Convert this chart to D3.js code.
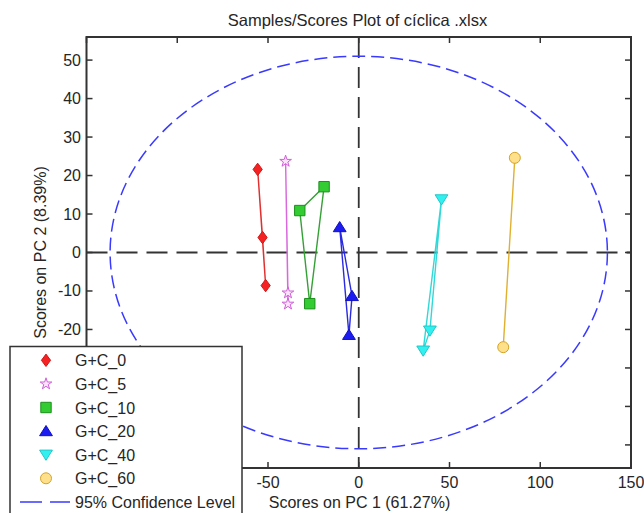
<!DOCTYPE html>
<html>
<head>
<meta charset="utf-8">
<script src="https://cdn.jsdelivr.net/npm/d3@7"></script>
<style>
  body { margin: 0; background: #fff; }
  text { font-family: "Liberation Sans", Arial, sans-serif; fill: #262626; }
</style>
</head>
<body>
<div class="vis-scores"></div>
<script>
// scores per sample group (PC1, PC2)
const groups = ["G+C_0", "G+C_5", "G+C_10", "G+C_20", "G+C_40", "G+C_60"];
const pc1 = [
    [-55.7, -53.0, -51.3],
    [-40.3, -39.0, -39.0],
    [-32.5, -19.1, -27.0],
    [-10.5, -3.7, -5.4],
    [45.6, 39.2, 35.5],
    [86.0, 79.6]
];
const pc2 = [
    [21.6, 3.9, -8.6],
    [23.7, -10.5, -13.4],
    [10.9, 17.1, -13.3],
    [6.6, -11.3, -21.4],
    [13.8, -20.3, -25.5],
    [24.6, -24.6]
];
// 95% confidence ellipse semi-axes
const ellipseAxes = [137, 51];
const xTicks = [-150, -100, -50, 0, 50, 100, 150];
const yTicks = [-50, -40, -30, -20, -10, 0, 10, 20, 30, 40, 50];

// marker outlines, centred on 0,0
const shapes = {
    diamond: "M0,-6.2L4.6,0L0,6.2L-4.6,0Z",
    square: "M-5.2,-5.2H5.2V5.2H-5.2Z",
    up: "M0,-5.6L6.4,4.6H-6.4Z",
    down: "M0,5.6L6.4,-4.6H-6.4Z",
    circle: d3.symbol().type(d3.symbolCircle).size(95)(),
    star: d3.symbol().type(d3.symbolStar).size(42)()
};

const draw = () => {
    const W = 644, H = 513;
    const left = 86.5, right = 631, top = 37, bottom = 468;
    const legendTop = 346.5;

    const svg = d3.select(".vis-scores")
        .append("svg")
        .attr("width", W)
        .attr("height", H);

    const x = d3.scaleLinear().domain([-150, 150]).range([left, right]);
    const y = d3.scaleLinear().domain([-56, 56]).range([bottom, top]);

    const styles = [
        { shape: "diamond", fill: "#f42222", stroke: "#d01818", line: "#e03030" },
        { shape: "star", fill: "#fbe4fb", stroke: "#d060d8", line: "#d868dc" },
        { shape: "square", fill: "#33cc33", stroke: "#1c8f1c", line: "#35a035" },
        { shape: "up", fill: "#1c1cf0", stroke: "#1010c0", line: "#2a2ae0" },
        { shape: "down", fill: "#33f0f0", stroke: "#20c8c8", line: "#30d8d8" },
        { shape: "circle", fill: "#ffe08a", stroke: "#d4a428", line: "#e0b030" }
    ];

    const data = groups.map((g, i) => ({
        name: g,
        style: styles[i],
        points: pc1[i].map((v, j) => [v, pc2[i][j]])
    }));

    // zero lines
    svg.append("line")
        .attr("x1", x(-150)).attr("x2", x(150))
        .attr("y1", y(0)).attr("y2", y(0))
        .attr("stroke", "#333").attr("stroke-width", 1.8)
        .attr("stroke-dasharray", "21,9");
    svg.append("line")
        .attr("x1", x(0)).attr("x2", x(0))
        .attr("y1", y(56)).attr("y2", y(-56))
        .attr("stroke", "#333").attr("stroke-width", 1.8)
        .attr("stroke-dasharray", "21,9");

    // confidence ellipse
    svg.append("ellipse")
        .attr("cx", x(0)).attr("cy", y(0))
        .attr("rx", x(ellipseAxes[0]) - x(0))
        .attr("ry", y(0) - y(ellipseAxes[1]))
        .attr("fill", "none")
        .attr("stroke", "#3a3aff").attr("stroke-width", 1.5)
        .attr("stroke-dasharray", "13,6");

    const line = d3.line()
        .x(d => x(d[0]))
        .y(d => y(d[1]))
        .curve(d3.curveLinearClosed);

    const grp = svg.append("g").selectAll("g")
        .data(data)
        .enter()
        .append("g");

    grp.append("path")
        .attr("d", d => line(d.points))
        .attr("fill", "none")
        .attr("stroke", d => d.style.line)
        .attr("stroke-width", 1.4);

    grp.selectAll("path.mark")
        .data(d => d.points.map(p => ({ p: p, s: d.style })))
        .enter()
        .append("path")
        .attr("class", "mark")
        .attr("d", d => shapes[d.s.shape])
        .attr("transform", d => "translate(" + x(d.p[0]) + "," + y(d.p[1]) + ")")
        .attr("fill", d => d.s.fill)
        .attr("stroke", d => d.s.stroke)
        .attr("stroke-width", 1);

    // box with inward ticks on all sides
    svg.append("rect")
        .attr("x", left).attr("y", top)
        .attr("width", right - left).attr("height", bottom - top)
        .attr("fill", "none").attr("stroke", "#333").attr("stroke-width", 2);

    const tl = 6;
    xTicks.forEach(t => {
        svg.append("line").attr("x1", x(t)).attr("x2", x(t)).attr("y1", bottom).attr("y2", bottom - tl)
            .attr("stroke", "#333").attr("stroke-width", 1.5);
        svg.append("line").attr("x1", x(t)).attr("x2", x(t)).attr("y1", top).attr("y2", top + tl)
            .attr("stroke", "#333").attr("stroke-width", 1.5);
    });
    yTicks.forEach(t => {
        svg.append("line").attr("x1", left).attr("x2", left + tl).attr("y1", y(t)).attr("y2", y(t))
            .attr("stroke", "#333").attr("stroke-width", 1.5);
        svg.append("line").attr("x1", right).attr("x2", right - tl).attr("y1", y(t)).attr("y2", y(t))
            .attr("stroke", "#333").attr("stroke-width", 1.5);
    });

    svg.append("g").selectAll("text")
        .data(xTicks.filter(t => t > -150))
        .enter()
        .append("text")
        .attr("x", d => x(d))
        .attr("y", bottom + 20)
        .attr("text-anchor", "middle")
        .style("font-size", "16px")
        .text(d => d);

    // labels that would sit under the legend box are left out
    svg.append("g").selectAll("text")
        .data(yTicks.filter(t => y(t) + 6 < legendTop))
        .enter()
        .append("text")
        .attr("x", left - 5.5)
        .attr("y", d => y(d) + 5.5)
        .attr("text-anchor", "end")
        .style("font-size", "16px")
        .text(d => d);

    // titles
    svg.append("text")
        .attr("x", 357.5).attr("y", 26)
        .attr("text-anchor", "middle")
        .style("font-size", "16.5px")
        .text("Samples/Scores Plot of cíclica .xlsx");

    svg.append("text")
        .attr("x", 359.5).attr("y", 507.5)
        .attr("text-anchor", "middle")
        .style("font-size", "16px")
        .text("Scores on PC 1 (61.27%)");

    svg.append("text")
        .attr("transform", "translate(45.5," + ((top + bottom) / 2) + ") rotate(-90)")
        .attr("text-anchor", "middle")
        .style("font-size", "16px")
        .text("Scores on PC 2 (8.39%)");

    // legend
    const lg = svg.append("g");
    lg.append("rect")
        .attr("x", 10).attr("y", legendTop)
        .attr("width", 232).attr("height", 180)
        .attr("fill", "#fff").attr("stroke", "#333").attr("stroke-width", 1.5);

    const rowY = i => 360.3 + i * 23.6;
    const items = lg.selectAll("g.item")
        .data(data)
        .enter()
        .append("g")
        .attr("class", "item");

    items.append("path")
        .attr("d", d => shapes[d.style.shape])
        .attr("transform", (d, i) => "translate(46," + rowY(i) + ")")
        .attr("fill", d => d.style.fill)
        .attr("stroke", d => d.style.stroke);

    items.append("text")
        .attr("x", 75)
        .attr("y", (d, i) => rowY(i) + 6)
        .style("font-size", "16px")
        .text(d => d.name);

    lg.append("line")
        .attr("x1", 20).attr("x2", 70)
        .attr("y1", rowY(6)).attr("y2", rowY(6))
        .attr("stroke", "#3a3aff").attr("stroke-width", 1.5)
        .attr("stroke-dasharray", "22,8");
    lg.append("text")
        .attr("x", 75).attr("y", rowY(6) + 6)
        .style("font-size", "16px")
        .text("95% Confidence Level");
};

draw();
</script>
</body>
</html>
